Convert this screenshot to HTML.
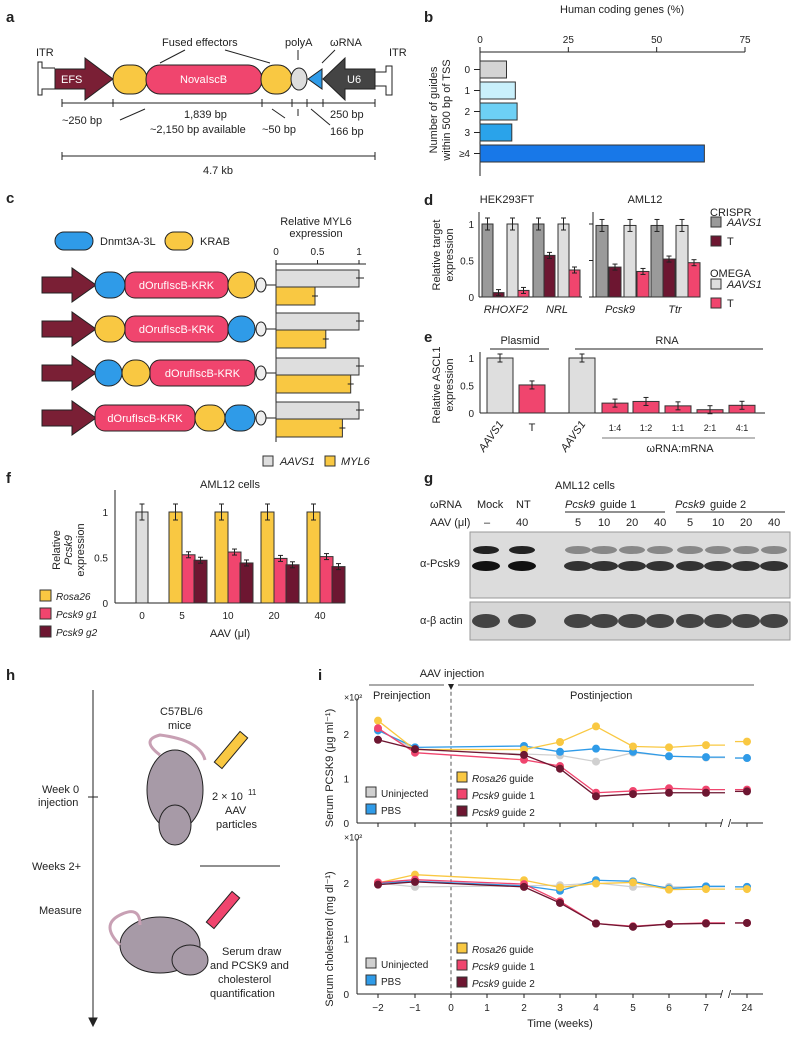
<!DOCTYPE html>
<html><head><meta charset="utf-8">
<style>
body{margin:0;background:#fff}
svg{display:block;font-family:"Liberation Sans",sans-serif;font-size:11px;fill:#222}
.pl{font-weight:bold;font-size:15px}
</style></head>
<body>
<svg id="fig" width="799" height="1039" viewBox="0 0 799 1039">
<text class="pl" x="6" y="22">a</text>
<text class="pl" x="424" y="22">b</text>
<text class="pl" x="6" y="203">c</text>
<text class="pl" x="424" y="205">d</text>
<text class="pl" x="424" y="342">e</text>
<text class="pl" x="6" y="483">f</text>
<text class="pl" x="424" y="483">g</text>
<text class="pl" x="6" y="680">h</text>
<text class="pl" x="318" y="680">i</text>

<g stroke="#222" stroke-width="1">
<text x="36" y="56" stroke="none">ITR</text>
<path d="M55,68 H42 V62 H38 V95 H42 V89 H55" fill="none"/>
<polygon points="55,69 85,69 85,58 113,79 85,100 85,89 55,89" fill="#7a1f35"/>
<text x="61" y="83" fill="#fff" stroke="none">EFS</text>
<rect x="113" y="65" width="34" height="29" rx="14" fill="#f9c842"/>
<rect x="146" y="65" width="116" height="29" rx="14" fill="#f0456e"/>
<text x="180" y="83" fill="#fff" stroke="none">NovaIscB</text>
<rect x="261" y="65" width="31" height="29" rx="14" fill="#f9c842"/>
<ellipse cx="299" cy="79" rx="8" ry="11" fill="#ddd"/>
<polygon points="308,79 322,69 322,89" fill="#2f9be8"/>
<polygon points="323,79 345,58 345,69 375,69 375,89 345,89 345,100" fill="#444"/>
<text x="347" y="83" fill="#fff" stroke="none">U6</text>
<path d="M375,72 H386 V66 H392 V95 H386 V86 H375" fill="none"/>
<text x="389" y="56" stroke="none">ITR</text>
<text x="162" y="46" stroke="none">Fused effectors</text>
<path d="M185,50 L160,63 M225,50 L270,63" fill="none"/>
<text x="285" y="46" stroke="none">polyA</text><path d="M298,50 V60"/>
<text x="330" y="46" stroke="none">ωRNA</text><path d="M335,50 L322,63"/>
<path d="M62,103 H375 M62,99 V107 M113,99 V107 M262,99 V107 M292,99 V107 M307,99 V107 M323,99 V107 M375,99 V107" fill="none"/>
<path d="M145,109 L120,120 M272,109 L285,118 M298,109 V116 M311,109 L330,125" fill="none"/>
<text x="62" y="124" stroke="none">~250 bp</text>
<text x="184" y="118" stroke="none">1,839 bp</text>
<text x="150" y="133" stroke="none">~2,150 bp available</text>
<text x="262" y="133" stroke="none">~50 bp</text>
<text x="330" y="118" stroke="none">250 bp</text>
<text x="330" y="135" stroke="none">166 bp</text>
<path d="M62,156 H375 M62,152 V160 M375,152 V160" fill="none"/>
<text x="203" y="174" stroke="none">4.7 kb</text>
</g>

<g stroke="#222" stroke-width="1">
<rect x="55" y="232" width="38" height="18" rx="9" fill="#2f9be8"/>
<text x="100" y="245" stroke="none">Dnmt3A-3L</text>
<rect x="165" y="232" width="28" height="18" rx="9" fill="#f9c842"/>
<text x="200" y="245" stroke="none">KRAB</text>
</g>
<g id="cRows"></g>

<g id="charts"></g>

<g>
<text x="555" y="489">AML12 cells</text>
<text x="430" y="508">ωRNA</text>
<text x="477" y="508">Mock</text><text x="516" y="508">NT</text>
<text x="565" y="508" font-style="italic">Pcsk9</text><text x="600" y="508"> guide 1</text>
<text x="675" y="508" font-style="italic">Pcsk9</text><text x="710" y="508"> guide 2</text>
<path d="M565,512 H665 M676,512 H785" stroke="#222"/>
<text x="430" y="526">AAV (μl)</text>
<text x="484" y="526">–</text><text x="516" y="526">40</text>
<text x="575" y="526">5</text><text x="598" y="526">10</text><text x="626" y="526">20</text><text x="654" y="526">40</text>
<text x="687" y="526">5</text><text x="712" y="526">10</text><text x="740" y="526">20</text><text x="768" y="526">40</text>
<rect x="470" y="532" width="320" height="66" fill="#dcdcdc" stroke="#999"/>
<g id="bands"></g>
<rect x="470" y="602" width="320" height="38" fill="#d6d6d6" stroke="#999"/>
<g id="bands2"></g>
<text x="420" y="567">α-Pcsk9</text>
<text x="420" y="624">α-β actin</text>
</g>

<g stroke="#222">
<path d="M93,690 V1022" fill="none"/>
<polygon points="89,1018 97,1018 93,1026" fill="#222"/>
<path d="M88,797 H98 M200,866 H280" fill="none"/>
<text x="42" y="793" stroke="none">Week 0</text>
<text x="38" y="806" stroke="none">injection</text>
<text x="32" y="870" stroke="none">Weeks 2+</text>
<text x="39" y="914" stroke="none">Measure</text>
<text x="160" y="715" stroke="none">C57BL/6</text>
<text x="168" y="729" stroke="none">mice</text>
<ellipse cx="175" cy="790" rx="28" ry="40" fill="#a79aa7"/>
<ellipse cx="175" cy="825" rx="16" ry="20" fill="#a79aa7"/>
<path d="M160,755 Q140,740 160,735 Q200,740 205,760" fill="none" stroke="#c8a0b4" stroke-width="3"/>
<rect x="226" y="730" width="10" height="40" fill="#f9c842" transform="rotate(40 231 750)"/>
<text x="212" y="800" stroke="none">2 × 10</text><text x="248" y="795" font-size="8" stroke="none">11</text>
<text x="225" y="814" stroke="none">AAV</text>
<text x="216" y="828" stroke="none">particles</text>
<ellipse cx="160" cy="945" rx="40" ry="28" fill="#a79aa7"/>
<ellipse cx="190" cy="960" rx="18" ry="15" fill="#a79aa7"/>
<path d="M120,945 Q100,925 120,915 Q140,905 140,925" fill="none" stroke="#c8a0b4" stroke-width="3"/>
<rect x="218" y="890" width="10" height="40" fill="#f0456e" transform="rotate(40 223 910)"/>
<text x="222" y="955" stroke="none">Serum draw</text>
<text x="210" y="969" stroke="none">and PCSK9 and</text>
<text x="218" y="983" stroke="none">cholesterol</text>
<text x="210" y="997" stroke="none">quantification</text>
</g>
</svg>

<script>
const NS="http://www.w3.org/2000/svg";
const root=document.getElementById('charts');
function el(tag,attrs,parent,txt){const e=document.createElementNS(NS,tag);for(const k in attrs)e.setAttribute(k,attrs[k]);if(txt!==undefined)e.textContent=txt;(parent||root).appendChild(e);return e;}
function eb(g,x,y,h){el('line',{x1:x,x2:x,y1:y-h,y2:y+h,stroke:'#222'},g);el('line',{x1:x-2.5,x2:x+2.5,y1:y-h,y2:y-h,stroke:'#222'},g);el('line',{x1:x-2.5,x2:x+2.5,y1:y+h,y2:y+h,stroke:'#222'},g);}
const Y='#f9c842',B='#2f9be8',G='#d0d0d0',P='#f0456e',M='#6d1631',DG='#9a9a9a';

const bCats=['0','1','2','3','≥4'];
const bVals=[7.5,10,10.5,9,63.5];
const bTicks=[0,25,50,75];
const bColors=['#d4d4d4','#c9f0fb','#6dd0f5','#2aa3ea','#1878e8'];
const cAAVS1=[1,1,1,1];
const cMYL6=[0.47,0.6,0.9,0.8];
const dGenes=['RHOXF2','NRL','Pcsk9','Ttr'];
const dCrAAVS1=[1,1,0.98,0.98];
const dCrT=[0.06,0.57,0.41,0.52];
const dOmAAVS1=[1,1,0.98,0.98];
const dOmT=[0.09,0.37,0.35,0.47];
const eCats=['AAVS1','T','AAVS1','1:4','1:2','1:1','2:1','4:1'];
const eVals=[1,0.51,1,0.18,0.21,0.13,0.06,0.14];
const fDoses=['0','5','10','20','40'];
const fRosa=[1,1,1,1,1];
const fG1=[null,0.53,0.56,0.49,0.51];
const fG2=[null,0.47,0.44,0.42,0.40];
const iWeeks=['-2','-1','2','3','4','5','6','7','24'];
const iTickLabels=['−2','−1','0','1','2','3','4','5','6','7','24'];
const pcskRosa=[2.3,1.65,1.65,1.82,2.17,1.72,1.7,1.75,1.83];
const pcskPBS=[2.08,1.7,1.73,1.6,1.67,1.6,1.5,1.48,1.46];
const pcskUninj=[2.1,1.65,1.55,1.52,1.38,1.58,1.5,1.47,1.46];
const pcskG1=[2.13,1.58,1.42,1.28,0.68,0.72,0.78,0.75,0.75];
const pcskG2=[1.87,1.66,1.53,1.22,0.6,0.65,0.68,0.68,0.71];
const cholRosa=[2.0,2.15,2.05,1.92,1.99,2.01,1.88,1.89,1.89];
const cholPBS=[2.0,2.03,1.95,1.86,2.05,2.03,1.9,1.94,1.93];
const cholUninj=[2.0,1.93,1.95,1.96,2.0,1.93,1.93,1.93,1.93];
const cholG1=[2.01,2.06,1.98,1.67,1.27,1.22,1.26,1.28,1.28];
const cholG2=[1.97,2.02,1.93,1.64,1.27,1.21,1.26,1.27,1.28];

{const x=v=>480+v*265/75; const y0=61,step=21;
 let g=el('g',{});
 el('text',{x:560,y:13},g,'Human coding genes (%)');
 el('line',{x1:x(0),x2:x(75),y1:52,y2:52,stroke:'#222'},g);
 el('line',{x1:480,x2:480,y1:52,y2:176,stroke:'#222'},g);
 bTicks.forEach(t=>{el('line',{x1:x(t),x2:x(t),y1:52,y2:47,stroke:'#222'},g);el('text',{x:x(t),y:43,'text-anchor':'middle','font-size':'10'},g,String(t));});
 bCats.forEach((c,i)=>{const r=el('rect',{x:480,y:y0+i*step,width:x(bVals[i])-480,height:17,fill:bColors[i],stroke:'#333'},g);
  
  el('text',{x:470,y:y0+i*step+12,'text-anchor':'end','font-size':'10'},g,c);
  el('line',{x1:474,x2:480,y1:y0+i*step+8.5,y2:y0+i*step+8.5,stroke:'#222'},g);});
 el('text',{transform:'translate(437,110) rotate(-90)','text-anchor':'middle'},g,'Number of guides');
 el('text',{transform:'translate(450,110) rotate(-90)','text-anchor':'middle'},g,'within 500 bp of TSS');
}
{const rows=document.getElementById('cRows');
 const layouts=[[['B',95,30],['P',125,103],['Y',228,27]],[['Y',95,30],['P',125,103],['B',228,27]],[['B',95,27],['Y',122,28],['P',150,105]],[['P',95,100],['Y',195,30],['B',225,30]]];
 const cy=[285,329,373,418];
 layouts.forEach((L,i)=>{const y=cy[i];
  el('polygon',{points:`42,${y-8} 72,${y-8} 72,${y-17} 96,${y} 72,${y+17} 72,${y+8} 42,${y+8}`,fill:'#7a1f35',stroke:'#222'},rows);
  L.forEach(([t,x,w])=>{const col=t==='B'?B:t==='Y'?Y:P;
   el('rect',{x:x,y:y-13,width:w,height:26,rx:t==='P'?10:13,fill:col,stroke:'#222'},rows);
   if(t==='P')el('text',{x:x+w/2,y:y+4,'text-anchor':'middle',fill:'#fff'},rows,'dOrufIscB-KRK');});
  el('ellipse',{cx:261,cy:y,rx:5,ry:7,fill:'#eee',stroke:'#222'},rows);
  el('line',{x1:266,x2:276,y1:y,y2:y,stroke:'#222'},rows);});
}
{const x=v=>276+v*83; const g=el('g',{});
 el('text',{x:316,y:225,'text-anchor':'middle'},g,'Relative MYL6');
 el('text',{x:316,y:237,'text-anchor':'middle'},g,'expression');
 [0,0.5,1].forEach(t=>{el('text',{x:x(t),y:255,'text-anchor':'middle','font-size':'10'},g,String(t));el('line',{x1:x(t),x2:x(t),y1:260,y2:264,stroke:'#222'},g);});
 el('line',{x1:276,x2:366,y1:264,y2:264,stroke:'#222'},g);
 el('line',{x1:276,x2:276,y1:264,y2:442,stroke:'#222'},g);
 const ys=[270,313,358,402];
 cAAVS1.forEach((v,i)=>{
  const a=el('rect',{x:276,y:ys[i],width:x(v)-276,height:17,fill:'#dedede',stroke:'#333'},g);
  const b=el('rect',{x:276,y:ys[i]+17,width:x(cMYL6[i])-276,height:18,fill:Y,stroke:'#333'},g);
  el('line',{x1:x(v)-3,x2:x(v)+5,y1:ys[i]+8,y2:ys[i]+8,stroke:'#222'},g);
  el('line',{x1:x(cMYL6[i])-3,x2:x(cMYL6[i])+3,y1:ys[i]+26,y2:ys[i]+26,stroke:'#222'},g);});
 el('rect',{x:263,y:456,width:10,height:10,fill:'#dedede',stroke:'#333'},g);el('text',{x:280,y:465,'font-style':'italic'},g,'AAVS1');
 el('rect',{x:325,y:456,width:10,height:10,fill:Y,stroke:'#333'},g);el('text',{x:341,y:465,'font-style':'italic'},g,'MYL6');
}
{const y=v=>297-v*73; const g=el('g',{});
 const groupX=[482,533,596,651]; const bw=[11,11,12,12];
 el('text',{x:507,y:203,'text-anchor':'middle'},g,'HEK293FT');el('text',{x:645,y:203,'text-anchor':'middle'},g,'AML12');
 [[479,582],[593,700]].forEach(([a,b])=>{el('line',{x1:a,x2:a,y1:212,y2:297,stroke:'#222'},g);el('line',{x1:a,x2:b,y1:297,y2:297,stroke:'#222'},g);});
 [0,0.5,1].forEach(t=>{el('text',{x:474,y:y(t)+4,'text-anchor':'end','font-size':'10'},g,String(t));el('line',{x1:593,x2:589,y1:y(t),y2:y(t),stroke:'#222'},g);});
 el('text',{transform:'translate(440,255) rotate(-90)','text-anchor':'middle'},g,'Relative target');
 el('text',{transform:'translate(453,255) rotate(-90)','text-anchor':'middle'},g,'expression');
 const series=[[dCrAAVS1,DG],[dCrT,M],[dOmAAVS1,'#dedede'],[dOmT,P]];
 const offs=[[0,11,25,36],[0,11,25,36],[0,13,28,41],[0,12,25,37]];
 dGenes.forEach((gn,i)=>{series.forEach(([arr,c],k)=>{const xx=groupX[i]+offs[i][k];
   const r=el('rect',{x:xx,y:y(arr[i]),width:bw[i],height:y(0)-y(arr[i]),fill:c,stroke:'#333'},g);
   eb(g,xx+bw[i]/2,y(arr[i]),k%2===0?6:3);});
  el('text',{x:groupX[i]+24,y:313,'text-anchor':'middle','font-style':'italic'},g,gn);});
 el('text',{x:710,y:216},g,'CRISPR');el('text',{x:710,y:277},g,'OMEGA');
 [[226,DG,'AAVS1'],[245,M,'T'],[288,'#dedede','AAVS1'],[307,P,'T']].forEach(([yy,c,t])=>{el('rect',{x:711,y:yy-9,width:10,height:10,fill:c,stroke:'#333'},g);el('text',{x:727,y:yy,'font-style':t==='T'?'normal':'italic'},g,t);});
}
{const y=v=>413-v*55; const g=el('g',{});
 const xs=[487,519,569,602,633,665,697,729];
 el('line',{x1:480,x2:480,y1:352,y2:413,stroke:'#222'},g);el('line',{x1:480,x2:765,y1:413,y2:413,stroke:'#222'},g);
 [0,0.5,1].forEach(t=>el('text',{x:474,y:y(t)+4,'text-anchor':'end','font-size':'10'},g,String(t)));
 el('text',{x:520,y:344,'text-anchor':'middle'},g,'Plasmid');el('text',{x:667,y:344,'text-anchor':'middle'},g,'RNA');
 el('line',{x1:490,x2:549,y1:349,y2:349,stroke:'#222'},g);el('line',{x1:575,x2:763,y1:349,y2:349,stroke:'#222'},g);
 eCats.forEach((c,i)=>{const col=(c==='AAVS1')?'#dedede':P;
  const r=el('rect',{x:xs[i],y:y(eVals[i]),width:26,height:y(0)-y(eVals[i]),fill:col,stroke:'#333'},g);
  eb(g,xs[i]+13,y(eVals[i]),4);
  if(c==='AAVS1')el('text',{transform:`translate(${xs[i]+17},424) rotate(-55)`,'text-anchor':'end','font-style':'italic'},g,c);
  else el('text',{x:xs[i]+13,y:431,'text-anchor':'middle','font-size':c==='T'?'11':'9'},g,c);});
 el('line',{x1:602,x2:755,y1:438,y2:438,stroke:'#777'},g);
 el('text',{x:680,y:452,'text-anchor':'middle'},g,'ωRNA:mRNA');
 el('text',{transform:'translate(440,385) rotate(-90)','text-anchor':'middle'},g,'Relative ASCL1');
 el('text',{transform:'translate(453,385) rotate(-90)','text-anchor':'middle'},g,'expression');
}
{const y=v=>603-v*91; const g=el('g',{});
 const gx=[142,188,234,280,326];
 el('text',{x:230,y:488,'text-anchor':'middle'},g,'AML12 cells');
 el('line',{x1:115,x2:115,y1:490,y2:603,stroke:'#222'},g);el('line',{x1:115,x2:340,y1:603,y2:603,stroke:'#222'},g);
 [0,0.5,1].forEach(t=>el('text',{x:108,y:y(t)+4,'text-anchor':'end','font-size':'10'},g,String(t)));
 fDoses.forEach((d,i)=>{
  if(i===0){el('rect',{x:136,y:y(fRosa[0]),width:12,height:y(0)-y(fRosa[0]),fill:'#dedede',stroke:'#333'},g);eb(g,142,y(fRosa[0]),8);}
  else{[[fRosa,Y,-19],[fG1,P,-6],[fG2,M,6]].forEach(([arr,c,o])=>{const r=el('rect',{x:gx[i]+o,y:y(arr[i]),width:13,height:y(0)-y(arr[i]),fill:c,stroke:'#333'},g);
   
   eb(g,gx[i]+o+6.5,y(arr[i]),o<0&&arr===fRosa?8:3);});}
  el('text',{x:i===0?142:gx[i]-6,y:619,'text-anchor':'middle','font-size':'10'},g,d);});
 el('text',{x:230,y:637,'text-anchor':'middle'},g,'AAV (μl)');
 el('text',{transform:'translate(60,550) rotate(-90)','text-anchor':'middle'},g,'Relative');
 el('text',{transform:'translate(72,550) rotate(-90)','text-anchor':'middle','font-style':'italic'},g,'Pcsk9');
 el('text',{transform:'translate(84,550) rotate(-90)','text-anchor':'middle'},g,'expression');
 [[600,Y,'Rosa26'],[618,P,'Pcsk9 g1'],[636,M,'Pcsk9 g2']].forEach(([yy,c,t])=>{el('rect',{x:40,y:yy-10,width:11,height:11,fill:c,stroke:'#333'},g);el('text',{x:56,y:yy,'font-size':'10','font-style':'italic'},g,t);});
}
{const bd=document.getElementById('bands'),bd2=document.getElementById('bands2');
 const lanes=[486,522,578,604,632,660,690,718,746,774];
 lanes.forEach((lx,i)=>{const strong=i<2;
  el('ellipse',{cx:lx,cy:550,rx:13,ry:4,fill:strong?'#222':'#888'},bd);
  el('ellipse',{cx:lx,cy:566,rx:14,ry:5,fill:strong?'#111':'#333'},bd);
  el('ellipse',{cx:lx,cy:621,rx:14,ry:7,fill:'#444'},bd2);});
}
{const xMap={'-2':378,'-1':415,'0':451,'1':487,'2':524,'3':560,'4':596,'5':633,'6':669,'7':706,'24':747};
 const tickKeys=['-2','-1','0','1','2','3','4','5','6','7','24'];
 function panel(y0,unit,series,ylab,legY1,legY2,name){
  const y=v=>y0-v*unit; const g=el('g',{});
  el('line',{x1:357,x2:357,y1:y(2.8),y2:y0,stroke:'#222'},g);
  el('line',{x1:357,x2:722,y1:y0,y2:y0,stroke:'#222'},g);el('line',{x1:731,x2:763,y1:y0,y2:y0,stroke:'#222'},g);
  el('text',{x:720,y:y0+4},g,'/');el('text',{x:728,y:y0+4},g,'/');
  [0,1,2].forEach(t=>el('text',{x:349,y:y(t)+4,'text-anchor':'end','font-size':'10'},g,String(t)));
  el('text',{x:344,y:y(2.8)+2,'font-size':'9'},g,'×10²');
  tickKeys.forEach(k=>el('line',{x1:xMap[k],x2:xMap[k],y1:y0,y2:y0+4,stroke:'#222'},g));
  el('line',{x1:451,x2:451,y1:y(2.95),y2:y0,stroke:'#555','stroke-dasharray':'4,3'},g);
  el('text',{transform:`translate(333,${y0-55}) rotate(-90)`,'text-anchor':'middle'},g,ylab);
  series.forEach(([arr,c,nm])=>{let d='';arr.forEach((v,i)=>{const X=xMap[iWeeks[i]];if(i<8)d+=(i?'L':'M')+X+','+y(v);});
   const p=el('path',{d:d,fill:'none',stroke:c,'stroke-width':1.3},g);
   el('line',{x1:725,x2:706,y1:y(arr[7]),y2:y(arr[7]),stroke:c,'stroke-width':1.3},g);
   el('line',{x1:735,x2:747,y1:y(arr[8]),y2:y(arr[8]),stroke:c,'stroke-width':1.3},g);
   arr.forEach((v,i)=>{const pt=el('circle',{cx:xMap[iWeeks[i]],cy:y(v),r:4,fill:c},g);});});
  [[legY1,G,'Uninjected'],[legY1+17,B,'PBS']].forEach(([yy,c,t])=>{el('rect',{x:366,y:yy-10,width:10,height:10,fill:c,stroke:'#333'},g);el('text',{x:381,y:yy,'font-size':'10'},g,t);});
  [[legY2,Y,'Rosa26',' guide'],[legY2+17,P,'Pcsk9',' guide 1'],[legY2+34,M,'Pcsk9',' guide 2']].forEach(([yy,c,a,b])=>{el('rect',{x:457,y:yy-10,width:10,height:10,fill:c,stroke:'#333'},g);
   const t=el('text',{x:472,y:yy,'font-size':'10'},g);el('tspan',{'font-style':'italic'},t,a);el('tspan',{},t,b);});
 }
 panel(823,44.5,[[pcskUninj,G,'uninjected'],[pcskPBS,B,'pbs'],[pcskRosa,Y,'rosa26'],[pcskG1,P,'pcsk9-g1'],[pcskG2,M,'pcsk9-g2']],'Serum PCSK9 (μg ml⁻¹)',797,782,'panel-i-pcsk9');
 panel(994,55.5,[[cholUninj,G,'uninjected'],[cholPBS,B,'pbs'],[cholRosa,Y,'rosa26'],[cholG1,P,'pcsk9-g1'],[cholG2,M,'pcsk9-g2']],'Serum cholesterol (mg dl⁻¹)',968,953,'panel-i-cholesterol');
 const g=el('g',{});
 el('text',{x:452,y:677,'text-anchor':'middle'},g,'AAV injection');
 el('line',{x1:369,x2:444,y1:685,y2:685,stroke:'#555'},g);el('line',{x1:458,x2:754,y1:685,y2:685,stroke:'#555'},g);
 el('polygon',{points:'448,684 454,684 451,690'},g);
 el('text',{x:373,y:699},g,'Preinjection');el('text',{x:570,y:699},g,'Postinjection');
 tickKeys.forEach((k,i)=>el('text',{x:xMap[k],y:1011,'text-anchor':'middle','font-size':'10'},g,iTickLabels[i]));
 el('text',{x:560,y:1027,'text-anchor':'middle'},g,'Time (weeks)');
}
</script>
</body></html>
